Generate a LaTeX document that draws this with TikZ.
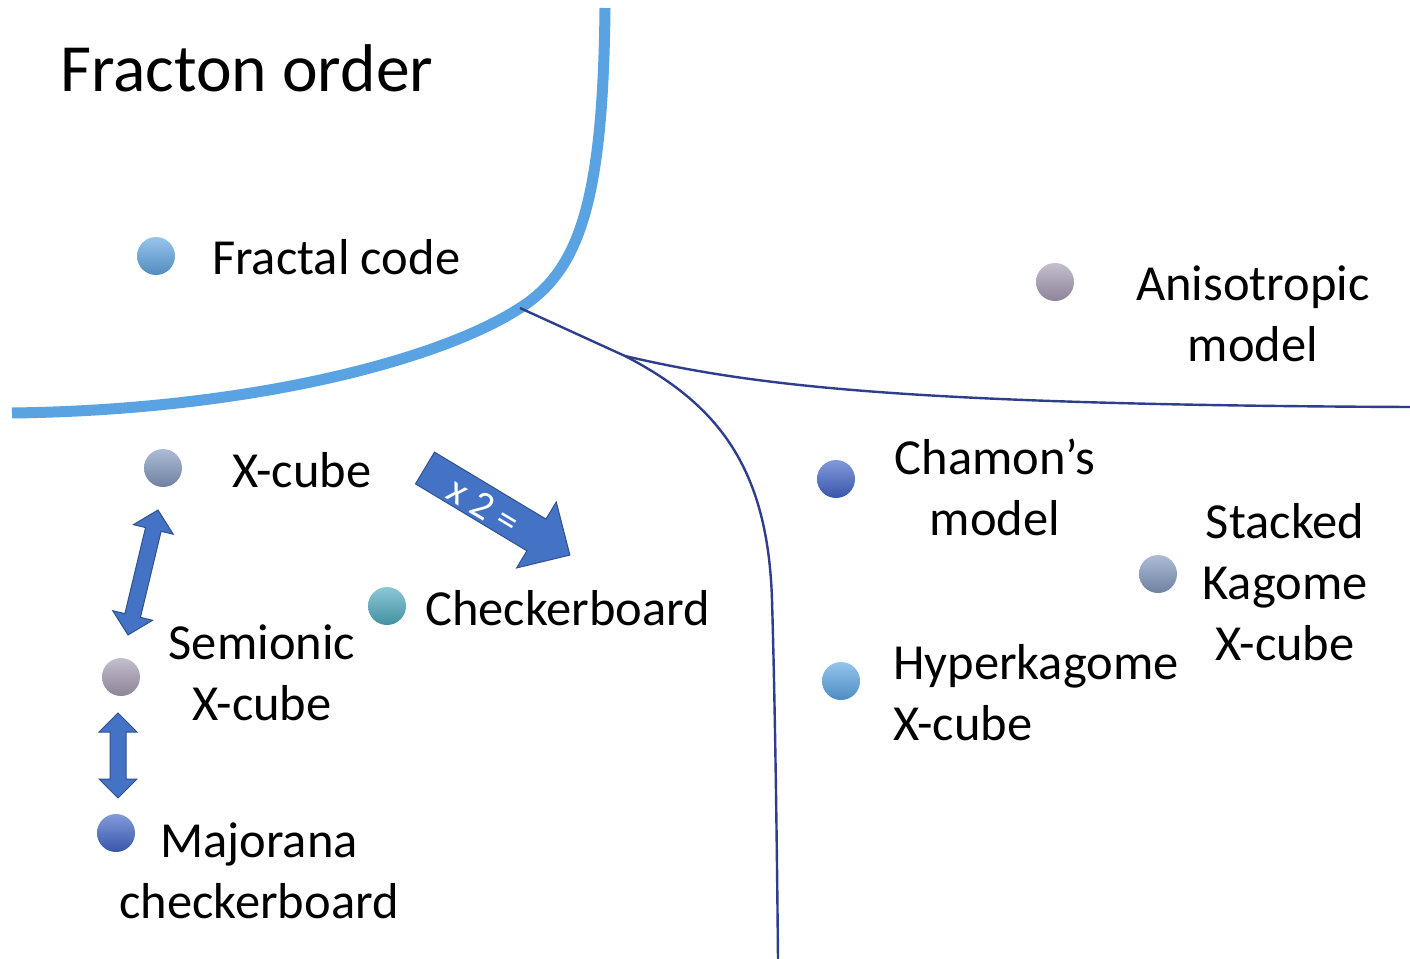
\documentclass[tikz,border=0pt]{standalone}
\usepackage{fontspec}
\setmainfont{Carlito}
\definecolor{thickblue}{RGB}{90,163,226}
\definecolor{thinblue}{RGB}{46,62,140}
\definecolor{arrowblue}{RGB}{68,114,196}
\definecolor{arrowedge}{RGB}{47,82,143}
\definecolor{cFrac}{RGB}{95,165,225}
\definecolor{cAniso}{RGB}{165,155,178}
\definecolor{cX}{RGB}{130,152,190}
\definecolor{cCheck}{RGB}{78,170,190}
\definecolor{cCham}{RGB}{65,100,200}
\definecolor{cHyper}{RGB}{90,165,228}
\newcommand\fdblarrow[4]{%
  \draw[barrow] (0,0) -- (#2,-#3) -- (#2,-#4) -- ({#1-#2},-#4) -- ({#1-#2},-#3) -- (#1,0)
    -- ({#1-#2},#3) -- ({#1-#2},#4) -- (#2,#4) -- (#2,#3) -- cycle;}
\begin{document}
\begin{tikzpicture}[x=1pt,y=-1pt,
  lbl/.style={font=\fontsize{50.5}{61}\selectfont, inner sep=0pt, align=center},
  dot/.style={circle, minimum size=38pt, inner sep=0pt,
    top color=#1!65!white, bottom color=#1!85!black, draw=none},
  barrow/.style={fill=arrowblue, draw=arrowedge, line width=1pt, line join=miter},
  thick line/.style={draw=thickblue, line width=11pt},
  thin line/.style={draw=thinblue, line width=2.4pt}]
\useasboundingbox[fill=white] (0,0) rectangle (1410,958);

% boundaries
\coordinate (top) at (605,8);
\coordinate (knee) at (520,308);
\coordinate (left) at (12,413);
\coordinate (junc) at (625,356);
\coordinate (bottom) at (778,960);
\coordinate (right) at (1412,407);
\draw[thick line] (top) .. controls (603,200) and (580,270) .. (knee)
  .. controls (440,360) and (250,410) .. (left);
\draw[thin line] (knee) -- (junc)
  .. controls (720,405) and (768,470) .. (772,600)
  .. controls (775,700) and (777,850) .. (bottom);
\draw[thin line] (junc) .. controls (750,385) and (900,405) .. (right);

% title
\node[font=\fontsize{67.5}{70}\selectfont, inner sep=0pt, anchor=base west] (title) at (60,92) {Fracton order};

% dots
\node[dot=cFrac] (dfrac) at (156,256) {};
\node[dot=cAniso] (daniso) at (1055,282) {};
\node[dot=cX] (dx) at (163,468) {};
\node[dot=cCheck] (dcheck) at (387,606) {};
\node[dot=cAniso] (dsemi) at (121,677) {};
\node[dot=cCham] (dmaj) at (116,833) {};
\node[dot=cCham] (dcham) at (836,479) {};
\node[dot=cX] (dstack) at (1158,574) {};
\node[dot=cHyper] (dhyper) at (841,681) {};

% labels (base anchor = baseline of last line)
\node[lbl, anchor=base west] (lfrac) at (212,274) {Fractal code};
\node[lbl, anchor=base] (laniso) at (1253,361) {Anisotropic\\model};
\node[lbl, anchor=base west] (lx) at (232,487) {X-cube};
\node[lbl, anchor=base west] (lcheck) at (425,625) {Checkerboard};
\node[lbl, anchor=base] (lsemi) at (262,720) {Semionic\\X-cube};
\node[lbl, anchor=base] (lmaj) at (259,918) {Majorana\\checkerboard};
\node[lbl, anchor=base] (lcham) at (995,535) {Chamon’s\\model};
\node[lbl, anchor=base] (lstack) at (1285,660) {Stacked\\Kagome\\X-cube};
\node[lbl, anchor=base west, align=left] (lhyper) at (893,740) {Hyperkagome\\X-cube};

% block arrows
\begin{scope}[shift={(425,468)}, rotate=-31]
  \draw[barrow] (0,-18.5) -- (130,-18.5) -- (130,-38.5) -- (169,0) -- (130,38.5) -- (130,18.5) -- (0,18.5) -- cycle;
  \node[text=white, font=\fontsize{40}{44}\selectfont, inner sep=0pt, rotate=-31] (x2) at (70,2) {x 2 =};
\end{scope}
\begin{scope}[shift={(158,510)}, rotate=-103.5]
  \fdblarrow{128.5}{20}{20.5}{8}
\end{scope}
\begin{scope}[shift={(118,713)}, rotate=-90]
  \fdblarrow{85}{19}{19}{8}
\end{scope}
\end{tikzpicture}
\end{document}
